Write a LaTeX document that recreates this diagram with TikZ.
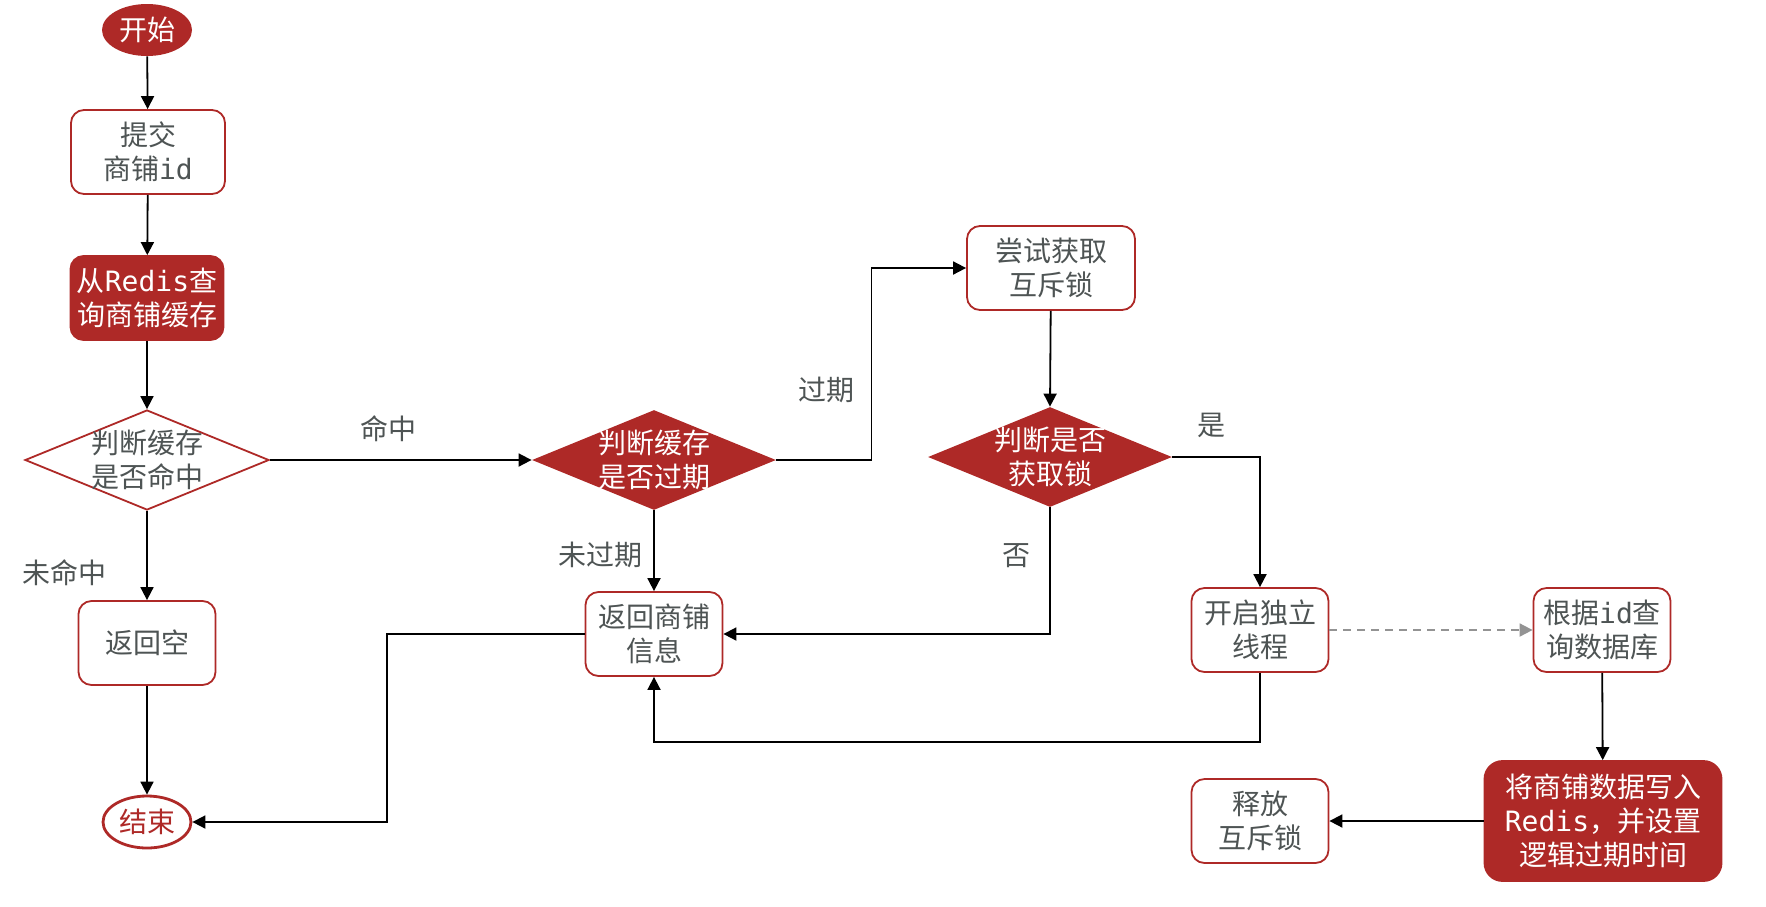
\documentclass[tikz,border=0pt]{standalone}
\usepackage{fontspec}
\usepackage{tikz}
\usepackage{xcolor}
\usetikzlibrary{shapes.geometric, arrows.meta, positioning, calc}
\setmainfont{Noto Sans CJK SC}
\newfontfamily\codefont{DejaVu Sans Mono}
\definecolor{brick}{RGB}{174,41,39}
\definecolor{inkgray}{RGB}{78,84,84}

\begin{document}
\begin{tikzpicture}[
    x=0.5pt, y=-0.5pt,
    every node/.style={font=\fontsize{14}{17}\selectfont, align=center},
    terminal/.style={ellipse, minimum width=45pt, minimum height=26pt, inner sep=0pt},
    process/.style={rectangle, rounded corners=6.5pt, draw=brick, line width=0.9pt, fill=white, text=inkgray, minimum width=68.5pt, minimum height=42pt, inner sep=2pt},
    redproc/.style={process, fill=brick, text=white},
    decision/.style={diamond, minimum width=122pt, minimum height=50pt, inner sep=0pt},
    lbl/.style={text=inkgray},
    arrow/.style={-{Triangle[length=6.5pt, width=6.5pt]}, line width=0.9pt, draw=black},
    async/.style={-{Triangle[length=6.5pt, width=6.5pt]}, line width=0.9pt, draw=gray!85, dash pattern=on 4pt off 3pt}
]
    \useasboundingbox (0,0) rectangle (1766,906);

    % Left column
    \node[terminal, fill=brick, text=white] (start) at (147,30) {开始};
    \node[process, minimum width=77pt] (submit) at (148,152) {提交\\商铺{\codefont id}};
    \node[redproc, minimum width=76.5pt] (query) at (147,298) {从{\codefont Redis}查\\询商铺缓存};
    \node[decision, draw=brick, line width=0.9pt, fill=white,
        label={[text=inkgray, align=center]center:判断缓存\\是否命中}] (hit) at (147,460) {};
    \node[process] (empty) at (147,643) {返回空};
    \node[terminal, minimum width=44pt, draw=brick, line width=1.4pt, fill=white, text=brick] (finish) at (147,822) {结束};

    % Middle
    \node[decision, fill=brick,
        label={[text=white, align=center]center:判断缓存\\是否过期}] (expired) at (654,460) {};
    \node[process] (info) at (654,634) {返回商铺\\信息};
    \node[process, minimum width=84pt] (trylock) at (1051,268) {尝试获取\\互斥锁};
    \node[decision, fill=brick,
        label={[text=white, align=center]center:判断是否\\获取锁}] (gotlock) at (1050,457) {};

    % Right side
    \node[process] (thread) at (1260,630) {开启独立\\线程};
    \node[process] (dbquery) at (1602,630) {根据{\codefont id}查\\询数据库};
    \node[redproc, rounded corners=9pt, minimum width=118.5pt, minimum height=60pt] (write) at (1603,821)
        {将商铺数据写入\\{\codefont Redis}，并设置\\逻辑过期时间};
    \node[process] (unlock) at (1260,821) {释放\\互斥锁};

    % Edge labels
    \node[lbl] (lhit) at (388,429) {命中};
    \node[lbl] (lmiss) at (64,573) {未命中};
    \node[lbl] (lnotexp) at (600,555) {未过期};
    \node[lbl] (lexp) at (826,390) {过期};
    \node[lbl] (lyes) at (1211,425) {是};
    \node[lbl] (lno) at (1016,556) {否};

    % Connections
    \draw[arrow] (start) -- (submit);
    \draw[arrow] (submit) -- (query);
    \draw[arrow] (query) -- (hit);
    \draw[arrow] (hit.south) -- (empty.north);
    \draw[arrow] (empty) -- (finish);
    \draw[arrow] (hit.east) -- (expired.west);
    \draw[arrow] (expired.south) -- (info.north);
    \draw[arrow] (expired.east) -- ++(95,0) |- (trylock.west);
    \draw[arrow] (trylock) -- (gotlock.north);
    \draw[arrow] (gotlock.south) |- (info.east);
    \draw[arrow] (gotlock.east) -| (thread.north);
    \draw[arrow] (thread.south) -- ++(0,69) -| (info.south);
    \draw[arrow] (info.west) -- ++(-198,0) |- (finish.east);
    \draw[async] (thread) -- (dbquery);
    \draw[arrow] (dbquery) -- (write);
    \draw[arrow] (write) -- (unlock);

\end{tikzpicture}
\end{document}
